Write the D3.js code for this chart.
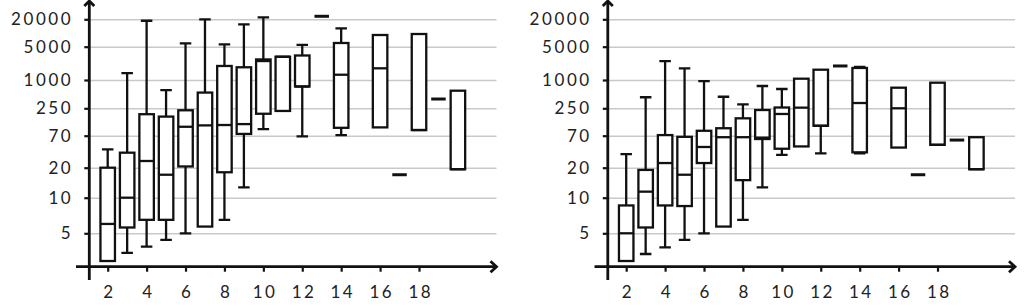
<!DOCTYPE html>
<html>
<head>
<meta charset="utf-8">
<script src="https://cdn.jsdelivr.net/npm/d3@7"></script>
<style>
  body { margin: 0; background: #fff; }
  svg { display: block; }
  text { font-family: Lato, 'Open Sans', sans-serif; fill: #222; }
</style>
</head>
<body>
<svg id="chart" width="1030" height="306"></svg>
<script>
// categories (x values) and tick values
const cats = [2, 3, 4, 5, 6, 7, 8, 9, 10, 11, 12, 13, 14, 15, 16, 17, 18, 19, 20]
const xTicks = [2, 4, 6, 8, 10, 12, 14, 16, 18]
const yTicks = [5, 10, 20, 70, 250, 1000, 5000, 20000]

// left panel: low whisker, Q1, median, Q3, high whisker (null = no box)
const aLow  = [1, 1.6, 2.3, 3.4, 5, 5.7, 6.5, 12.7, 95, 221, 68, 23300, 72, null, 103, 17, 91, 394, 19.3]
const aQ1   = [1, 5.6, 6.5, 6.5, 21, 5.7, 18, 76, 194, 221, 727, 23300, 101, null, 103, 17, 91, 394, 19.3]
const aMed  = [6, 10, 26, 17, 106, 113, 115, 120, 2500, 3080, 727, 23300, 1290, null, 1760, 17, 91, 394, 19.3]
const aQ3   = [20, 36, 190, 170, 228, 540, 1970, 1850, 2700, 3080, 3270, 23300, 6030, null, 9040, 17, 9500, 394, 592]
const aHigh = [41, 1400, 18600, 610, 5900, 20000, 5600, 15500, 22000, 3080, 5500, 23300, 12700, null, 9040, 17, 9500, 394, 592]

// right panel
const bLow  = [1, 1.5, 2.2, 3.4, 5, 5.7, 6.5, 12.7, 33, 46, 35, 1970, 35, null, 44, 17, 49, 59, 19.3]
const bQ1   = [1, 5.6, 8.6, 8.5, 24, 5.7, 15, 61.5, 42, 46, 111, 1970, 36.5, null, 44, 17, 49, 59, 19.3]
const bMed  = [5, 11.5, 24, 17, 45, 66, 66, 65, 192, 258, 111, 1970, 324, null, 250, 17, 49, 59, 19.3]
const bQ3   = [8.6, 19, 72, 67, 88, 99, 157, 231, 260, 1065, 1645, 1970, 1790, null, 686, 17, 876, 59, 66]
const bHigh = [34, 430, 2500, 1760, 950, 440, 304, 745, 644, 1065, 1645, 1970, 1880, null, 686, 17, 876, 59, 66]

// layout
const axisX = 89.3
const axisY = 266.7
const gridRight = 496.5
const boxW = 14.5
const capW = 11.5
const panelShift = [0, 518.5]

// the value axis is stretched unevenly: each labelled value sits at its own height
const yAnchors = [1, 5, 10, 20, 70, 250, 1000, 5000, 20000]
const yPx = [261, 233.3, 197.7, 167.7, 135.7, 108.3, 80, 46.7, 19.3]
const yL = d3.scaleLinear().domain(yAnchors.map(Math.log10)).range(yPx)
const y = (v) => yL(Math.log10(v))
const x = d3.scaleLinear().domain([2, 18]).range([107.7, 419])

const svg = d3.select('#chart')

const drawPanel = (shift, low, q1, med, q3, high) => {
  const g = svg.append('g').attr('transform', `translate(${shift},0)`)

  // grid
  g.append('g')
    .attr('transform', `translate(${axisX},0)`)
    .call(d3.axisLeft(yL).tickValues(yTicks.map(Math.log10)).tickSize(-(gridRight - axisX)).tickFormat(''))
    .call((s) => s.select('.domain').remove())
    .selectAll('line')
    .attr('stroke', '#c9c9c9')
    .attr('stroke-width', 1.5)

  // y axis ticks + labels
  const ya = g.append('g')
    .attr('transform', `translate(${axisX},0)`)
    .call(d3.axisLeft(yL).tickValues(yTicks.map(Math.log10)).tickSize(5).tickPadding(11)
      .tickFormat((d) => Math.round(Math.pow(10, d))))
  ya.select('.domain').remove()
  ya.selectAll('line').attr('stroke', '#111').attr('stroke-width', 2.2)
  ya.selectAll('text').style('font-size', '17px').style('letter-spacing', '2.6px')

  // x axis ticks + labels
  const xa = g.append('g')
    .attr('transform', `translate(0,${axisY})`)
    .call(d3.axisBottom(x).tickValues(xTicks).tickSize(5).tickPadding(14.5))
  xa.select('.domain').remove()
  xa.selectAll('line').attr('stroke', '#111').attr('stroke-width', 2.2)
  xa.selectAll('text').style('font-size', '17px').style('letter-spacing', '2.4px').attr('dx', '1.2px')

  // axis lines with arrows
  const ax = g.append('g').attr('fill', 'none').attr('stroke', '#111').attr('stroke-width', 2.8)
  ax.append('line').attr('x1', axisX).attr('x2', axisX).attr('y1', 1).attr('y2', 280)
  ax.append('line').attr('x1', 76).attr('x2', gridRight - 1).attr('y1', axisY).attr('y2', axisY)
  ax.append('path').attr('d', `M${axisX - 5},6 L${axisX},1 L${axisX + 5},6`)
  ax.append('path').attr('d', `M${gridRight - 6},${axisY - 5.5} L${gridRight},${axisY} L${gridRight - 6},${axisY + 5.5}`)

  const rows = cats.map((c, i) => ({ c, low: low[i], q1: q1[i], med: med[i], q3: q3[i], high: high[i] }))
    .filter((d) => d.q1 != null)

  const boxes = g.append('g').attr('stroke', '#111').attr('fill', 'none').attr('stroke-width', 2.3)
    .selectAll('g').data(rows).join('g')

  // whiskers
  boxes.filter((d) => d.high > d.q3).append('path')
    .attr('d', (d) => `M${x(d.c)},${y(d.q3)} V${y(d.high)} M${x(d.c) - capW / 2},${y(d.high)} H${x(d.c) + capW / 2}`)
  boxes.filter((d) => d.low < d.q1).append('path')
    .attr('d', (d) => `M${x(d.c)},${y(d.q1)} V${y(d.low)} M${x(d.c) - capW / 2},${y(d.low)} H${x(d.c) + capW / 2}`)

  // boxes
  boxes.filter((d) => d.q3 > d.q1).append('rect')
    .attr('x', (d) => x(d.c) - boxW / 2)
    .attr('width', boxW)
    .attr('y', (d) => y(d.q3))
    .attr('height', (d) => y(d.q1) - y(d.q3))
    .attr('fill', '#fff')
  boxes.filter((d) => d.q3 > d.q1).append('line')
    .attr('x1', (d) => x(d.c) - boxW / 2)
    .attr('x2', (d) => x(d.c) + boxW / 2)
    .attr('y1', (d) => y(d.med))
    .attr('y2', (d) => y(d.med))

  // single value -> just a dash
  boxes.filter((d) => d.q3 === d.q1).append('line')
    .attr('x1', (d) => x(d.c) - boxW / 2)
    .attr('x2', (d) => x(d.c) + boxW / 2)
    .attr('y1', (d) => y(d.med))
    .attr('y2', (d) => y(d.med))
    .attr('stroke-width', 3)
}

drawPanel(panelShift[0], aLow, aQ1, aMed, aQ3, aHigh)
drawPanel(panelShift[1], bLow, bQ1, bMed, bQ3, bHigh)
</script>
</body>
</html>
